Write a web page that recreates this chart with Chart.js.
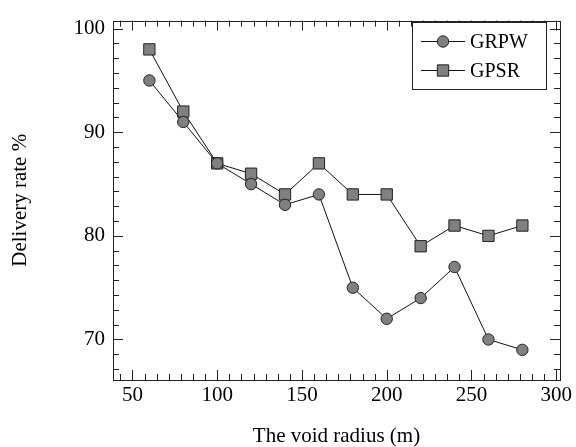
<!DOCTYPE html>
<html>
<head>
<meta charset="utf-8">
<script src="https://cdn.jsdelivr.net/npm/chart.js@4.4.1/dist/chart.umd.min.js"></script>
<style>
  html, body { margin: 0; padding: 0; background: #fff; }
  canvas { display: block; }
</style>
</head>
<body>
<canvas id="grafico" width="576" height="447"></canvas>
<script>
// datos
const radios = [60, 80, 100, 120, 140, 160, 180, 200, 220, 240, 260, 280];
const entregaGRPW = [95, 91, 87, 85, 83, 84, 75, 72, 74, 77, 70, 69];
const entregaGPSR = [98, 92, 87, 86, 84, 87, 84, 84, 79, 81, 80, 81];
const ticksX = [50, 100, 150, 200, 250, 300];
const ticksY = [70, 80, 90, 100];

const FUENTE = "'Liberation Serif', 'Times New Roman', serif";
const GRIS = '#808080';

function puntos(valores) {
    return radios.map((r, i) => ({ x: r, y: valores[i] }));
}

// marco completo + marcas hacia dentro (mayores y menores, 7 divisiones)
const marcoYMarcas = {
    id: 'marcoYMarcas',
    afterDraw(chart) {
        const { ctx, chartArea: a, scales } = chart;
        ctx.save();
        ctx.strokeStyle = '#222';
        ctx.lineWidth = 1;

        const marcar = (scale, horizontal, paso) => {
            const menor = paso / 7;
            const inicio = Math.ceil(scale.min / menor) * menor;
            for (let v = inicio; v <= scale.max + 1e-9; v += menor) {
                const k = Math.round(v / menor);
                const largo = (k % 7 === 0) ? 10 : 6;
                const p = Math.round(scale.getPixelForValue(v)) + 0.5;
                ctx.beginPath();
                if (horizontal) {
                    ctx.moveTo(p, a.bottom); ctx.lineTo(p, a.bottom - largo);
                    ctx.moveTo(p, a.top); ctx.lineTo(p, a.top + largo);
                } else {
                    ctx.moveTo(a.left, p); ctx.lineTo(a.left + largo, p);
                    ctx.moveTo(a.right, p); ctx.lineTo(a.right - largo, p);
                }
                ctx.stroke();
            }
        };
        marcar(scales.x, true, 50);
        marcar(scales.y, false, 10);

        ctx.strokeRect(Math.round(a.left) + 0.5, Math.round(a.top) + 0.5,
            Math.round(a.right - a.left), Math.round(a.bottom - a.top));
        ctx.restore();
    }
};

// leyenda con linea + marcador, al estilo pgfplots
const leyenda = {
    id: 'leyendaLinea',
    afterDraw(chart) {
        const { ctx } = chart;
        const caja = { x: 412.5, y: 22.5, w: 134, h: 67 };
        ctx.save();
        ctx.fillStyle = '#fff';
        ctx.fillRect(caja.x, caja.y, caja.w, caja.h);
        ctx.strokeStyle = '#222';
        ctx.lineWidth = 1;
        ctx.strokeRect(caja.x, caja.y, caja.w, caja.h);

        const filas = [41.5, 70.5];
        chart.data.datasets.forEach((ds, i) => {
            const y = filas[i];
            ctx.strokeStyle = ds.borderColor;
            ctx.lineWidth = 1;
            ctx.beginPath();
            ctx.moveTo(421, y); ctx.lineTo(465, y);
            ctx.stroke();
            ctx.fillStyle = ds.pointBackgroundColor;
            ctx.strokeStyle = ds.pointBorderColor;
            ctx.lineWidth = ds.pointBorderWidth;
            ctx.beginPath();
            if (ds.pointStyle === 'rect') {
                const s = ds.pointRadius * Math.SQRT1_2;
                ctx.rect(443 - s, y - s, 2 * s, 2 * s);
            } else {
                ctx.arc(443, y, ds.pointRadius, 0, Math.PI * 2);
            }
            ctx.fill();
            ctx.stroke();
            ctx.fillStyle = '#000';
            ctx.font = '20px ' + FUENTE;
            ctx.textBaseline = 'middle';
            ctx.textAlign = 'left';
            ctx.fillText(ds.label, 470, y + 1);
        });
        ctx.restore();
    }
};

new Chart(document.getElementById('grafico'), {
    type: 'line',
    data: {
        datasets: [{
            label: 'GRPW',
            data: puntos(entregaGRPW),
            borderColor: '#111',
            borderWidth: 1,
            pointStyle: 'circle',
            pointRadius: 5.7,
            pointBackgroundColor: GRIS,
            pointBorderColor: '#222',
            pointBorderWidth: 1,
            tension: 0
        }, {
            label: 'GPSR',
            data: puntos(entregaGPSR),
            borderColor: '#111',
            borderWidth: 1,
            pointStyle: 'rect',
            pointRadius: 8,
            pointBackgroundColor: GRIS,
            pointBorderColor: '#222',
            pointBorderWidth: 1,
            tension: 0
        }]
    },
    options: {
        responsive: false,
        animation: false,
        layout: { padding: { top: 10, right: 16, left: 0, bottom: 0 } },
        plugins: {
            legend: { display: false },
            tooltip: { enabled: false }
        },
        scales: {
            x: {
                type: 'linear',
                min: 38.55,
                max: 302.2,
                afterBuildTicks: s => { s.ticks = ticksX.map(v => ({ value: v })); },
                afterFit: s => { s.height = 67; },
                grid: { display: false, drawTicks: false },
                border: { display: false },
                ticks: { padding: 3, color: '#000', font: { family: FUENTE, size: 21 }, maxRotation: 0 },
                title: {
                    display: true,
                    text: 'The void radius (m)',
                    color: '#000',
                    font: { family: FUENTE, size: 21, lineHeight: 1 },
                    padding: { top: 0, bottom: 0 }
                }
            },
            y: {
                type: 'linear',
                min: 66.09,
                max: 100.78,
                afterBuildTicks: s => { s.ticks = ticksY.map(v => ({ value: v })); },
                afterFit: s => { s.width = 113; },
                grid: { display: false, drawTicks: false },
                border: { display: false },
                ticks: { padding: 8, color: '#000', font: { family: FUENTE, size: 21 } },
                title: {
                    display: true,
                    text: 'Delivery rate %',
                    color: '#000',
                    font: { family: FUENTE, size: 21, lineHeight: 1 },
                    padding: { top: 10, bottom: 0 }
                }
            }
        }
    },
    plugins: [marcoYMarcas, leyenda]
});
</script>
</body>
</html>
